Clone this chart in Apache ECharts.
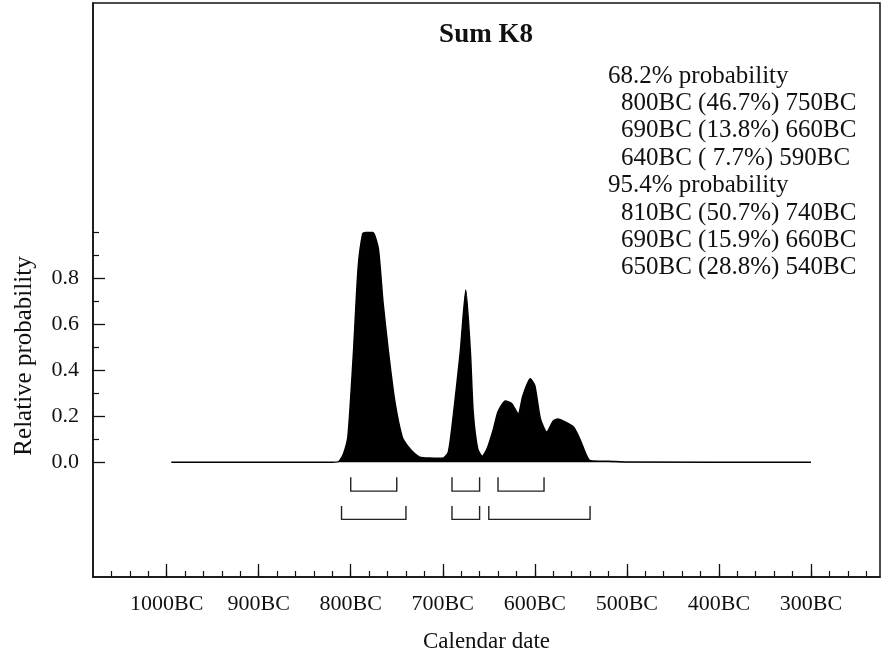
<!DOCTYPE html>
<html>
<head>
<meta charset="utf-8">
<script src="https://cdn.jsdelivr.net/npm/echarts@6/dist/echarts.min.js"></script>
<style>
  html, body { margin: 0; padding: 0; background: #fff; }
  #main { width: 884px; height: 661px; }
</style>
</head>
<body>
<div id="main"></div>
<script>
// summed probability (years BC)
const yearsBC = [995, 820, 813, 808, 803, 797, 792, 787, 784, 776, 770, 765, 759, 752, 744,
  738, 730, 725, 715, 700, 694, 689, 681, 675, 670, 667, 662, 657, 652, 645, 640, 632,
  625, 618, 613, 605, 600, 594, 587, 580, 575, 567, 558, 551, 545, 541, 537, 520, 500, 300];
const prob = [0, 0, 0.003, 0.035, 0.114, 0.481, 0.845, 0.995, 1.0, 1.0, 0.93, 0.70, 0.48, 0.263, 0.109,
  0.07, 0.035, 0.022, 0.018, 0.017, 0.044, 0.188, 0.48, 0.75, 0.48, 0.22, 0.057, 0.026, 0.057, 0.144, 0.22, 0.267,
  0.254, 0.21, 0.289, 0.363, 0.333, 0.19, 0.131, 0.179, 0.188, 0.175, 0.153, 0.10, 0.04, 0.01, 0.005, 0.004, 0.001, 0];

// ranges: [from BC, to BC, percent]
const range68 = [[800, 750, 46.7], [690, 660, 13.8], [640, 590, 7.7]];
const range95 = [[810, 740, 50.7], [690, 660, 15.9], [650, 540, 28.8]];

const xLabels = [1000, 900, 800, 700, 600, 500, 400, 300];
const yLabels = [0, 0.2, 0.4, 0.6, 0.8];
const yMinor = [0.1, 0.3, 0.5, 0.7, 0.9, 1.0];

const xMinor = [];
for (let y = 1060; y >= 240; y -= 20) xMinor.push(-y);

const font = 'Liberation Serif';
const ink = '#111';

const curve = yearsBC.map((y, i) => [-y, prob[i]]);
const brackets = [];
range68.forEach(r => brackets.push([-r[0], -r[1], 0]));
range95.forEach(r => brackets.push([-r[0], -r[1], 1]));

function rangeText(r) {
  let p = r[2].toFixed(1) + '%';
  if (r[2] < 10) p = ' ' + p;
  return r[0] + 'BC (' + p + ') ' + r[1] + 'BC';
}
const lines = [['68.2% probability', 0]]
  .concat(range68.map(r => [rangeText(r), 1]))
  .concat([['95.4% probability', 0]])
  .concat(range95.map(r => [rangeText(r), 1]));

const chart = echarts.init(document.getElementById('main'));

const textEls = lines.map((l, i) => ({
  type: 'text',
  x: l[1] ? 621 : 608,
  y: 76 + i * 27.4,
  style: { text: l[0], font: '25px "' + font + '"', fill: ink, textVerticalAlign: 'middle' }
}));

const option = {
  backgroundColor: '#fff',
  animation: false,
  grid: {
    left: 93, right: 4, top: 3, bottom: 84,
    show: true, borderColor: ink, borderWidth: 1.5
  },
  xAxis: [{
    type: 'value', min: -1080, max: -225,
    axisLine: { show: true, onZero: false, lineStyle: { color: ink, width: 1.5 } },
    axisTick: { inside: true, length: 13, customValues: xLabels.map(v => -v), lineStyle: { color: ink, width: 1.3 } },
    axisLabel: {
      customValues: xLabels.map(v => -v), formatter: v => (-v) + 'BC',
      fontFamily: font, fontSize: 22, color: ink, margin: 16
    },
    splitLine: { show: false },
    name: 'Calendar date', nameLocation: 'middle', nameGap: 53,
    nameTextStyle: { fontFamily: font, fontSize: 23, color: ink }
  }, {
    type: 'value', min: -1080, max: -225, position: 'bottom',
    axisLine: { show: false, onZero: false },
    axisTick: { inside: true, length: 6, customValues: xMinor, lineStyle: { color: ink, width: 1.2 } },
    axisLabel: { show: false },
    splitLine: { show: false }
  }],
  yAxis: [{
    type: 'value', min: -0.5, max: 2.0,
    axisLine: { show: true, onZero: false, lineStyle: { color: ink, width: 1.5 } },
    axisTick: { inside: true, length: 12, customValues: yLabels, lineStyle: { color: ink, width: 1.3 } },
    axisLabel: {
      customValues: yLabels, formatter: v => v.toFixed(1),
      fontFamily: font, fontSize: 22, color: ink, margin: 14
    },
    splitLine: { show: false }
  }, {
    type: 'value', min: -0.5, max: 2.0, position: 'left',
    axisLine: { show: false, onZero: false },
    axisTick: { inside: true, length: 6, customValues: yMinor, lineStyle: { color: ink, width: 1.2 } },
    axisLabel: { show: false },
    splitLine: { show: false }
  }],
  graphic: [{
    type: 'text', x: 486, y: 35,
    style: { text: 'Sum K8', font: 'bold 27px "' + font + '"', fill: ink, textAlign: 'center', textVerticalAlign: 'middle' }
  }, {
    type: 'text', x: 24, y: 356, rotation: Math.PI / 2,
    style: { text: 'Relative probability', font: '25px "' + font + '"', fill: ink, textAlign: 'center', textVerticalAlign: 'middle' }
  }].concat(textEls),
  series: [{
    type: 'line',
    data: curve,
    symbol: 'none',
    smooth: 0.2,
    lineStyle: { color: '#000', width: 1.5 },
    areaStyle: { color: '#000', opacity: 1 }
  }, {
    type: 'custom',
    data: brackets,
    clip: false,
    renderItem: function (params, api) {
      const levels = [[-0.066, -0.126], [-0.191, -0.249]];
      const lv = levels[api.value(2)];
      const x1 = api.coord([api.value(0), 0])[0];
      const x2 = api.coord([api.value(1), 0])[0];
      const yT = api.coord([0, lv[0]])[1];
      const yB = api.coord([0, lv[1]])[1];
      return {
        type: 'polyline',
        shape: { points: [[x1, yT], [x1, yB], [x2, yB], [x2, yT]] },
        style: { stroke: '#222', fill: null, lineWidth: 1.4 }
      };
    }
  }]
};

chart.setOption(option);
</script>
</body>
</html>
